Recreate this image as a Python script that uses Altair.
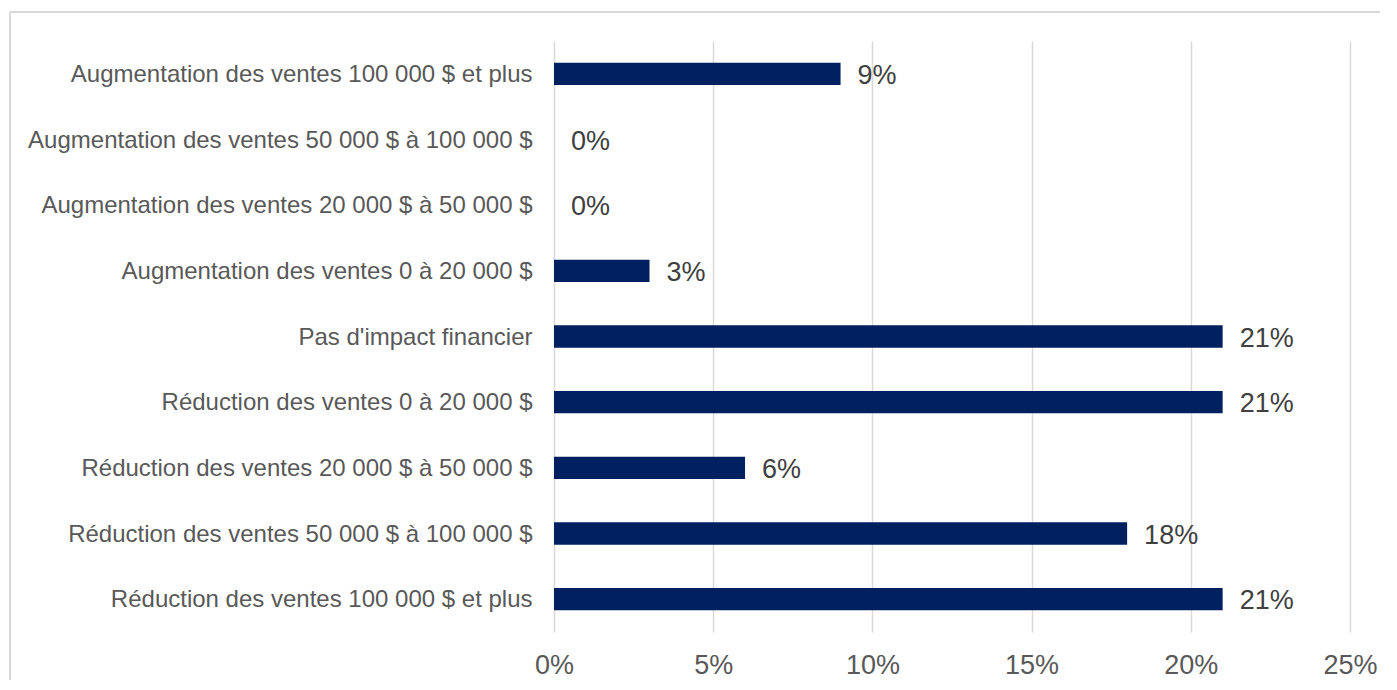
import altair as alt
import pandas as pd

categories = [
    "Augmentation des ventes 100 000 $ et plus",
    "Augmentation des ventes 50 000 $ à 100 000 $",
    "Augmentation des ventes 20 000 $ à 50 000 $",
    "Augmentation des ventes 0 à 20 000 $",
    "Pas d'impact financier",
    "Réduction des ventes 0 à 20 000 $",
    "Réduction des ventes 20 000 $ à 50 000 $",
    "Réduction des ventes 50 000 $ à 100 000 $",
    "Réduction des ventes 100 000 $ et plus",
]
values = [0.09, 0.0, 0.0, 0.03, 0.21, 0.21, 0.06, 0.18, 0.21]
x_ticks = [0, 0.05, 0.10, 0.15, 0.20, 0.25]

df = pd.DataFrame({"cat": categories, "val": values})

FONT = "Liberation Sans"
W, H = 796, 591

y_enc = alt.Y(
    "cat:N",
    sort=categories,
    title=None,
    scale=alt.Scale(paddingInner=0.66, paddingOuter=0.33),
    axis=alt.Axis(
        labelFont=FONT, labelFontSize=24, labelColor="#595959",
        labelPadding=22, ticks=False, domain=False, grid=False,
        labelLimit=700, labelOffset=1,
    ),
)
x_enc = alt.X(
    "val:Q",
    title=None,
    scale=alt.Scale(domain=[0, 0.25], nice=False),
    axis=alt.Axis(
        values=x_ticks, format=".0%", labelFont=FONT, labelFontSize=27,
        labelColor="#595959", labelPadding=20, ticks=False, domain=False,
        labelFlush=False,
        grid=True, gridColor="#d9d9d9", gridWidth=1.5,
    ),
)

bars = alt.Chart(df).mark_bar(color="#002060").encode(x=x_enc, y=y_enc)
labels = alt.Chart(df).mark_text(
    align="left", baseline="middle", dx=17, dy=2, font=FONT, fontSize=27, color="#404040"
).encode(x="val:Q", y=alt.Y("cat:N", sort=categories), text=alt.Text("val:Q", format=".0%"))

border_top = alt.Chart(df).mark_rule(color="#d9d9d9", strokeWidth=1.5).encode(
    x=alt.value(-544), x2=alt.value(W + 60), y=alt.value(-29)
)
border_left = alt.Chart(df).mark_rule(color="#d9d9d9", strokeWidth=1.5).encode(
    x=alt.value(-544), y=alt.value(-29), y2=alt.value(H + 80)
)

chart = (
    alt.layer(border_top, border_left, bars, labels)
    .properties(
        width=W, height=H,
        autosize=alt.AutoSizeParams(type="none"),
        padding={"left": 546, "top": 33, "right": 30, "bottom": 48},
        background="white",
    )
    .configure_view(stroke=None)
)

chart.save("out.html", embed_options={"renderer": "svg", "actions": False})
